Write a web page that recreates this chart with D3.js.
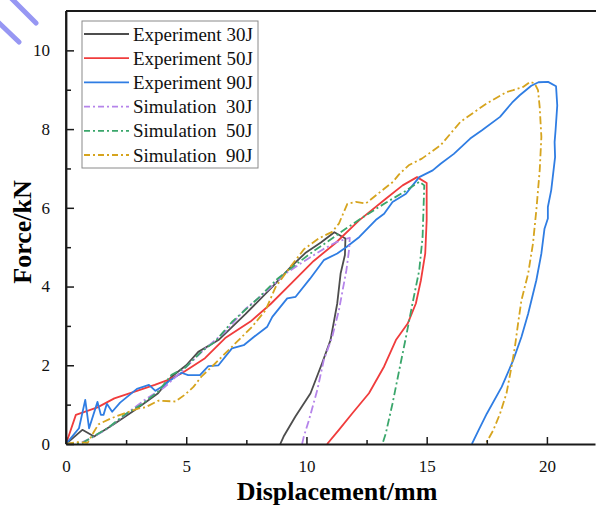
<!DOCTYPE html>
<html><head><meta charset="utf-8">
<script src="https://cdn.jsdelivr.net/npm/d3@7"></script>
<style>
html,body{margin:0;padding:0;background:#fff;}
svg{display:block;}
</style></head>
<body>
<svg id="chart" width="596" height="506"></svg>
<script>
// ---- data (displacement mm, force kN) ----
const exp30 = [[0,0],[0.68,0.36],[1.17,0.19],[1.94,0.48],[2.85,0.86],[3.83,1.29],[4.39,1.71],[5.0,2.0],[5.5,2.34],[6.34,2.64],[7.46,3.3],[8.58,3.99],[9.35,4.5],[9.95,4.85],[10.6,5.12],[11.16,5.38],[11.62,5.22],[11.6,4.8],[11.42,4.33],[11.28,3.57],[11.0,2.64],[10.65,2.05],[10.17,1.29],[9.54,0.7],[9.05,0.19],[8.91,0]];
const exp50 = [[0,0],[0.41,0.74],[1.31,0.93],[2.01,1.16],[2.95,1.35],[3.69,1.5],[4.25,1.63],[4.8,1.79],[5.78,2.18],[6.62,2.69],[7.67,3.11],[8.5,3.55],[9.4,4.1],[10.3,4.65],[11.2,5.1],[12.19,5.68],[13.3,6.23],[14.0,6.57],[14.6,6.78],[15.0,6.63],[15.0,5.69],[14.94,4.84],[14.76,4.16],[14.55,3.57],[14.21,3.06],[13.72,2.64],[13.23,1.97],[12.6,1.29],[11.91,0.78],[11.35,0.36],[10.86,0]];
const exp90 = [[0,0],[0.54,0.40],[0.80,1.12],[0.96,0.40],[1.31,1.07],[1.45,0.74],[1.56,0.74],[1.70,1.02],[1.92,0.82],[2.25,1.05],[2.95,1.40],[3.45,1.50],[3.72,1.35],[4.1,1.5],[4.25,1.58],[4.80,1.81],[5.08,1.75],[5.57,1.75],[5.92,1.98],[6.34,2.0],[6.90,2.43],[7.39,2.51],[7.81,2.72],[8.37,2.98],[8.58,3.23],[9.20,3.70],[9.55,3.74],[10.15,4.2],[10.72,4.67],[11.28,4.84],[11.65,5.0],[12.2,5.26],[12.88,5.69],[13.23,5.85],[13.58,6.15],[14.14,6.36],[14.69,6.78],[15.25,6.95],[15.58,7.12],[16.13,7.37],[16.81,7.76],[17.3,7.97],[18.05,8.31],[18.55,8.67],[18.87,8.86],[19.35,9.1],[19.65,9.19],[20.05,9.2],[20.38,9.09],[20.43,8.6],[20.36,7.97],[20.32,7.67],[20.34,7.29],[20.18,6.45],[20.04,6.02],[20.04,5.73],[19.9,5.47],[19.77,4.84],[19.56,4.16],[19.22,3.31],[18.94,2.72],[18.6,2.13],[18.12,1.45],[17.5,0.77],[17.16,0.35],[16.88,0]];
const sim30 = [[0,0],[0.6,0.03],[1.03,0.14],[1.73,0.39],[2.43,0.73],[3.27,1.12],[4.11,1.45],[4.94,1.92],[5.78,2.42],[6.62,2.85],[7.46,3.43],[8.3,3.86],[9.13,4.33],[9.97,4.67],[10.7,4.95],[11.25,5.13],[11.8,5.24],[11.78,4.97],[11.66,4.41],[11.35,3.4],[11.07,2.72],[10.72,2.13],[10.45,1.37],[10.1,0.6],[9.89,0.19],[9.82,0]];
const sim50 = [[0,0],[0.7,0.03],[1.05,0.16],[1.73,0.40],[2.43,0.74],[3.13,1.0],[3.83,1.33],[4.39,1.76],[4.94,1.93],[5.64,2.35],[6.2,2.6],[6.9,3.1],[7.46,3.41],[8.02,3.72],[8.8,4.2],[9.6,4.58],[10.3,4.9],[10.9,5.15],[11.63,5.47],[12.47,5.81],[13.3,6.13],[14.0,6.38],[14.69,6.66],[14.9,6.57],[14.83,5.26],[14.69,4.41],[14.41,3.57],[14.14,2.72],[13.86,1.88],[13.58,1.03],[13.3,0.27],[13.16,0]];
const sim90 = [[0,0],[0.45,0.05],[0.9,0.03],[1.15,0.3],[1.35,0.5],[1.87,0.65],[2.43,0.78],[2.99,0.9],[3.3,0.93],[3.83,1.1],[4.55,1.08],[4.94,1.25],[5.3,1.45],[5.64,1.72],[6.06,1.96],[6.9,2.47],[7.74,2.98],[8.3,3.4],[8.72,3.99],[9.27,4.45],[9.9,4.95],[10.5,5.22],[11.07,5.39],[11.35,5.6],[11.7,6.1],[12.05,6.15],[12.47,6.11],[13.02,6.38],[13.6,6.66],[13.85,6.85],[14.25,7.08],[14.8,7.25],[15.58,7.59],[16.4,8.18],[17.09,8.48],[17.5,8.65],[18.32,8.94],[18.6,8.99],[19.01,9.07],[19.3,9.2],[19.49,9.16],[19.63,8.99],[19.70,8.56],[19.77,7.8],[19.70,6.95],[19.56,5.94],[19.42,5.09],[19.22,4.33],[18.94,3.65],[18.8,3.06],[18.67,2.47],[18.53,1.97],[18.32,1.29],[18.05,0.77],[17.77,0.35],[17.45,0]];

const seriesNames = ["Experiment 30J","Experiment 50J","Experiment 90J","Simulation  30J","Simulation  50J","Simulation  90J"];
const seriesData = [exp30, exp50, exp90, sim30, sim50, sim90];
const seriesColors = ["#4d4d4d","#f03c3c","#2f7de3","#b584ea","#3aa66b","#d6a41e"];
const seriesDashed = [false,false,false,true,true,true];

const xMajor = [0,5,10,15,20];
const xMinor = [2.5,7.5,12.5,17.5];
const yMajor = [0,2,4,6,8,10];
const yMinor = [1,3,5,7,9];
const xTitle = "Displacement/mm";
const yTitle = "Force/kN";

// ---- layout ----
const svg = d3.select("#chart");
const L = 66, R = 595, T = 11, B = 444;
const x = d3.scaleLinear().domain([0, 22]).range([L, R]);
const y = d3.scaleLinear().domain([0, 11]).range([B, T]);
const font = "'Liberation Serif','Times New Roman',serif";
const axisColor = "#1a1a1a";

// watermark fragments
const wm = svg.append("g").attr("stroke", "#8c8cf2").attr("stroke-width", 5).attr("stroke-linecap", "round").attr("opacity", 0.9);
wm.append("line").attr("x1", 11).attr("y1", -2).attr("x2", 36).attr("y2", 23);
wm.append("line").attr("x1", -2).attr("y1", 22).attr("x2", 19).attr("y2", 42);

// clip
svg.append("defs").append("clipPath").attr("id","clip").append("rect")
  .attr("x", L).attr("y", T).attr("width", R - L + 2).attr("height", B - T);

// curves
const line = d3.line().x(d => x(d[0])).y(d => y(d[1]));
const plot = svg.append("g").attr("clip-path","url(#clip)");
seriesData.forEach((data, i) => {
  plot.append("path").datum(data)
    .attr("fill","none")
    .attr("stroke", seriesColors[i])
    .attr("stroke-width", 1.8)
    .attr("stroke-linejoin","round")
    .attr("stroke-dasharray", seriesDashed[i] ? "8,3,2,3" : null)
    .attr("d", line);
});

// axes
function styleAxis(g){
  g.selectAll("path.domain").attr("stroke", axisColor).attr("stroke-width", 1.8);
  g.selectAll(".tick line").attr("stroke", axisColor).attr("stroke-width", 1.5);
  g.selectAll(".tick text").attr("font-family", font).attr("font-size", 17).attr("fill", "#111");
}
const gx = svg.append("g").attr("transform", `translate(0,${B})`)
  .call(d3.axisBottom(x).tickValues(xMajor).tickSize(-7).tickSizeOuter(0).tickPadding(16).tickFormat(d3.format("d")));
styleAxis(gx);
const gxm = svg.append("g").attr("transform", `translate(0,${B})`)
  .call(d3.axisBottom(x).tickValues(xMinor).tickSize(-4).tickSizeOuter(0).tickFormat(""));
styleAxis(gxm);
gxm.select("path.domain").remove();

const gy = svg.append("g").attr("transform", `translate(${L},0)`)
  .call(d3.axisLeft(y).tickValues(yMajor).tickSize(-8).tickSizeOuter(0).tickPadding(16).tickFormat(d3.format("d")));
styleAxis(gy);
const gym = svg.append("g").attr("transform", `translate(${L},0)`)
  .call(d3.axisLeft(y).tickValues(yMinor).tickSize(-5).tickSizeOuter(0).tickFormat(""));
styleAxis(gym);
gym.select("path.domain").remove();

// frame top
svg.append("line").attr("x1", L).attr("x2", 596).attr("y1", T).attr("y2", T)
  .attr("stroke", axisColor).attr("stroke-width", 1.8);
svg.append("line").attr("x1", L).attr("x2", L).attr("y1", T).attr("y2", B)
  .attr("stroke", axisColor).attr("stroke-width", 1.8);

// titles
svg.append("text").attr("x", 337).attr("y", 500).attr("text-anchor","middle")
  .attr("font-family", font).attr("font-weight","bold").attr("font-size", 26).attr("fill","#000")
  .text(xTitle);
svg.append("text").attr("transform","translate(31,232) rotate(-90)").attr("text-anchor","middle")
  .attr("font-family", font).attr("font-weight","bold").attr("font-size", 26).attr("fill","#000")
  .text(yTitle);

// legend
const lg = svg.append("g");
lg.append("rect").attr("x", 82).attr("y", 21).attr("width", 176).attr("height", 147)
  .attr("fill","#fff").attr("stroke","#8a8a8a").attr("stroke-width", 1);
seriesNames.forEach((name, i) => {
  const cy = 34 + i * 24.2;
  lg.append("line").attr("x1", 84).attr("x2", 129).attr("y1", cy).attr("y2", cy)
    .attr("stroke", seriesColors[i]).attr("stroke-width", 1.8)
    .attr("stroke-dasharray", seriesDashed[i] ? "6,3,2,3" : null);
  lg.append("text").attr("x", 133).attr("y", cy + 6.5)
    .attr("font-family", font).attr("font-size", 19).attr("fill","#111")
    .attr("xml:space","preserve").style("white-space","pre")
    .text(name);
});
</script>
</body></html>
